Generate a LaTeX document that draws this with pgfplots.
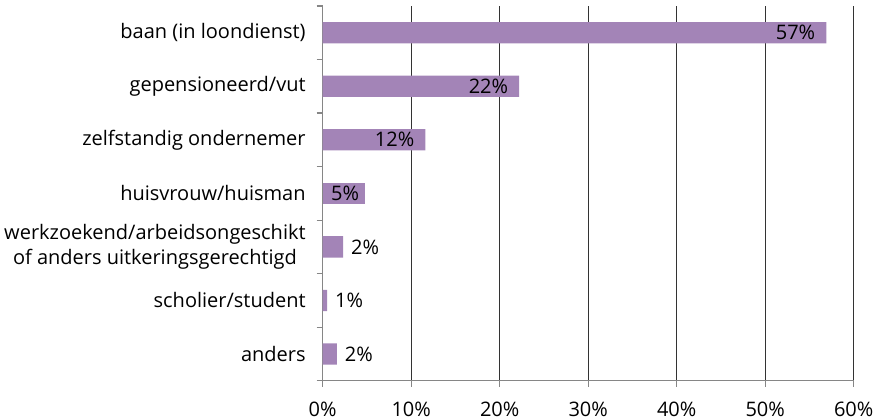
\documentclass[border=0pt]{standalone}
\usepackage{pgfplots}
\pgfplotsset{compat=1.18}
\usepackage{fontspec}
\setmainfont{Open Sans}
\definecolor{barc}{RGB}{163,132,183}
\definecolor{axc}{RGB}{134,134,134}
\newcommand{\lblfont}{\fontsize{10pt}{12.5pt}\selectfont}
\begin{document}
\begin{tikzpicture}
\useasboundingbox (-161.35pt,-19.15pt) rectangle (277.15pt,190.35pt);
\begin{axis}[
  at={(0,0)}, anchor=south west,
  scale only axis, width=265.5pt, height=187.35pt,
  xbar, bar width=10.65pt, bar shift=0pt,
  xmin=0, xmax=60, ymin=-0.5, ymax=6.5, y dir=reverse,
  axis x line*=bottom, axis y line*=left,
  axis line style={axc, line width=0.6pt},
  xtick={0,10,...,60},
  xticklabel={\pgfmathprintnumber{\tick}\%},
  /pgf/number format/assume math mode=true,
  ytick={0,...,6},
  yticklabels={baan (in loondienst), gepensioneerd/vut, zelfstandig ondernemer, huisvrouw/huisman, {werkzoekend/arbeidsongeschikt\\of anders uitkeringsgerechtigd}, scholier/student, anders},
  minor ytick={-0.5,0.5,...,6.5},
  tick align=outside,
  major tick length=3pt, minor tick length=3pt,
  major y tick style={draw=none},
  minor y tick style={axc, line width=0.6pt},
  major x tick style={axc, line width=0.6pt},
  xmajorgrids,
  major x grid style={black!80, line width=0.5pt},
  every tick label/.append style={font=\lblfont},
  yticklabel style={align=center, xshift=-2pt},
  xticklabel style={yshift=-4pt},
  nodes near coords={\pgfplotspointmeta\%},
  point meta=explicit symbolic,
  every node near coord/.append style={font=\lblfont, text=black},
]
\addplot[fill=barc, draw=none, nodes near coords style={anchor=east, xshift=-2pt}]
  table[x=v, y=y, meta=l] {
y v l
0 56.9 57
1 22.2 22
2 11.6 12
};
\addplot[fill=barc, draw=none, nodes near coords style={anchor=east, xshift=0.5pt}]
  table[x=v, y=y, meta=l] {
y v l
3 4.8 5
};
\addplot[fill=barc, draw=none, nodes near coords style={anchor=west, xshift=0.5pt}]
  table[x=v, y=y, meta=l] {
y v l
4 2.3 2
5 0.5 1
6 1.6 2
};
\end{axis}
\end{tikzpicture}
\end{document}
